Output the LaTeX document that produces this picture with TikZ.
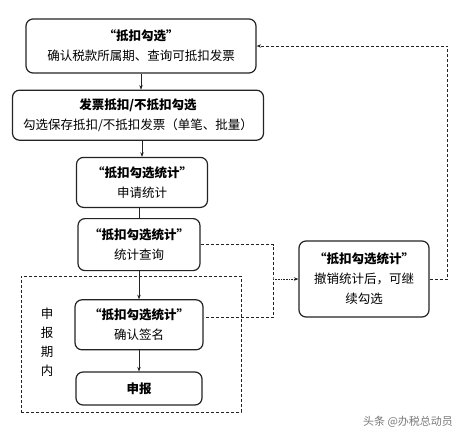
\documentclass[tikz,border=0pt]{standalone}
\usepackage{fontspec}
\setmainfont{Noto Sans CJK SC}
\usepackage{tikz}
\usetikzlibrary{arrows.meta, positioning}
\usepackage{xcolor}
\definecolor{linegray}{RGB}{35, 35, 35}
\definecolor{markgray}{RGB}{120, 120, 120}

\begin{document}
\begin{tikzpicture}[x=1pt, y=1pt, node distance=16pt,
    stepbox/.style={draw=linegray, line width=1.2pt, rounded corners=7pt, align=center, inner sep=2pt, font=\fontsize{12.5}{20}\selectfont},
    flow/.style={draw=linegray, line width=0.6pt, -{Stealth[length=4.5pt, width=3.5pt]}},
    dashline/.style={draw=linegray, line width=0.7pt, dash pattern=on 3pt off 2pt}]
    \useasboundingbox (0,0) rectangle (468,-437);

    % main column
    \node[stepbox, minimum width=230pt, minimum height=54pt] (pick) at (141,-46) {\textbf{“抵扣勾选”}\\确认税款所属期、查询可抵扣发票};
    \node[stepbox, minimum width=251pt, minimum height=50pt, below=16pt of pick, xshift=-3pt] (mark) {\textbf{发票抵扣/不抵扣勾选}\\勾选保存抵扣/不抵扣发票（单笔、批量）};
    \node[stepbox, minimum width=131pt, minimum height=50pt, below=16pt of mark, xshift=4pt] (apply) {\textbf{“抵扣勾选统计”}\\申请统计};
    \node[stepbox, minimum width=122pt, minimum height=52pt, below=10pt of apply, xshift=-3pt] (query) {\textbf{“抵扣勾选统计”}\\统计查询};
    \node[stepbox, minimum width=128pt, minimum height=50pt, below=28pt of query] (sign) {\textbf{“抵扣勾选统计”}\\确认签名};
    \node[stepbox, minimum width=126pt, minimum height=33pt, below=21pt of sign] (declare) {\textbf{申报}};

    % side box
    \node[stepbox, minimum width=130pt, minimum height=76pt] (undo) at (364,-279) {\textbf{“抵扣勾选统计”}\\撤销统计后，可继\\续勾选};

    % reporting period frame
    \node[dashline, minimum width=220pt, minimum height=136pt] (period) at (131,-344) {};
    \node[align=center, font=\fontsize{12.5}{19}\selectfont] (periodlabel) at (47,-342) {申\\报\\期\\内};

    \node[text=markgray, font=\fontsize{11}{11}\selectfont] (credit) at (408,-422) {头条 @办税总动员};

    % connectors
    \draw[flow] (pick.south) -- (pick.south |- mark.north);
    \draw[flow] (apply.north |- mark.south) -- (apply.north);
    \draw[draw=linegray, line width=0.6pt] (query.north |- apply.south) -- (query.north);
    \draw[flow] (query.south) -- (sign.north);
    \draw[flow] (sign.south) -- (declare.north);

    \coordinate (joint) at (273,-279);
    \draw[dashline] (query.east) -| (joint) |- ([yshift=7pt]sign.east);
    \draw[flow, densely dotted] (joint |- undo.west) -- (undo.west);
    \draw[dashline, -{Stealth[length=4.5pt, width=3.5pt]}] (undo.east) -- ++(18,0) |- (pick.east);
\end{tikzpicture}
\end{document}
